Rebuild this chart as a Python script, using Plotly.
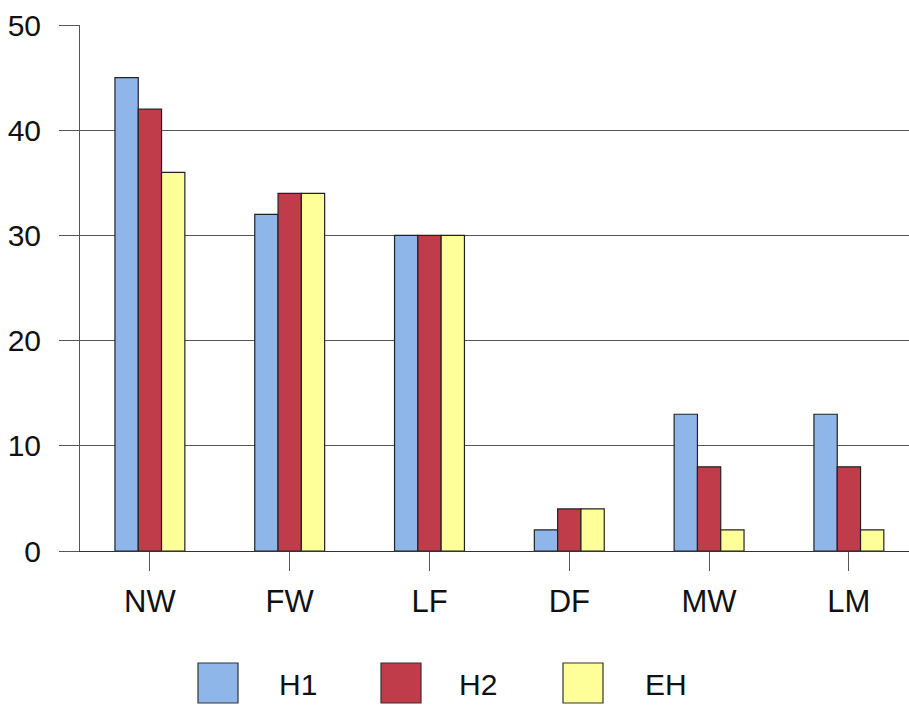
import plotly.graph_objects as go

categories = ["NW", "FW", "LF", "DF", "MW", "LM"]
series_names = ["H1", "H2", "EH"]
h1 = [45, 32, 30, 2, 13, 13]
h2 = [42, 34, 30, 4, 8, 8]
eh = [36, 34, 30, 4, 2, 2]
y_ticks = [0, 10, 20, 30, 40, 50]

colors = ["#8EB6E8", "#C03C4B", "#FFFF99"]
FONT = "Liberation Sans, Arial, sans-serif"

W, H = 909, 706
ML, MR, MT, MB = 80, 0, 25, 155
pw = W - ML - MR
ph = H - MT - MB

fig = go.Figure()
for name, vals, c in zip(series_names, [h1, h2, eh], colors):
    fig.add_trace(go.Bar(
        x=categories, y=vals, name=name,
        marker=dict(color=c, line=dict(color="#222222", width=1.2)),
        showlegend=False,
    ))

# custom legend with large squares
leg_sq_x = [198, 381, 563]
leg_txt_x = [277, 457, 643]
def px_to_paper_x(px):
    return (px - ML) / pw
def px_to_paper_y(py):
    return (H - MB - py) / ph

shapes = []
annotations = []
for i, (name, c) in enumerate(zip(series_names, colors)):
    shapes.append(dict(
        type="rect", xref="paper", yref="paper",
        x0=px_to_paper_x(leg_sq_x[i]), x1=px_to_paper_x(leg_sq_x[i] + 40),
        y0=px_to_paper_y(703), y1=px_to_paper_y(663),
        fillcolor=c, line=dict(color="#333333", width=1.2),
    ))
    annotations.append(dict(
        xref="paper", yref="paper",
        x=px_to_paper_x(leg_txt_x[i]), y=px_to_paper_y(684),
        xanchor="left", yanchor="middle", showarrow=False,
        text=name, font=dict(family=FONT, size=30, color="#111111"),
    ))

fig.update_layout(
    width=W, height=H,
    margin=dict(l=ML, r=MR, t=MT, b=MB),
    paper_bgcolor="white", plot_bgcolor="white",
    barmode="group", bargap=0.5, bargroupgap=0,
    showlegend=False,
    shapes=shapes, annotations=annotations,
    font=dict(family=FONT, size=30, color="#111111"),
)
fig.update_xaxes(
    type="category", range=[-0.5, 5.43],
    showline=True, linecolor="#333333", linewidth=1.2,
    ticks="outside", ticklen=19, tickcolor="#555555", tickwidth=1,
    ticklabelstandoff=4,
    tickfont=dict(family=FONT, size=31, color="#111111"),
    showgrid=False, zeroline=False,
)
fig.update_yaxes(
    range=[0, 50], tickvals=y_ticks,
    showline=True, linecolor="#555555", linewidth=1,
    ticks="outside", ticklen=20, tickcolor="#555555", tickwidth=1,
    ticklabelstandoff=12,
    showgrid=True, gridcolor="#555555", gridwidth=1,
    zeroline=False,
    tickfont=dict(family=FONT, size=30, color="#111111"),
)

fig.write_html(
    "out.html",
    config={"displayModeBar": False},
    post_script="document.body.style.margin='0';document.body.style.overflow='hidden';",
)
